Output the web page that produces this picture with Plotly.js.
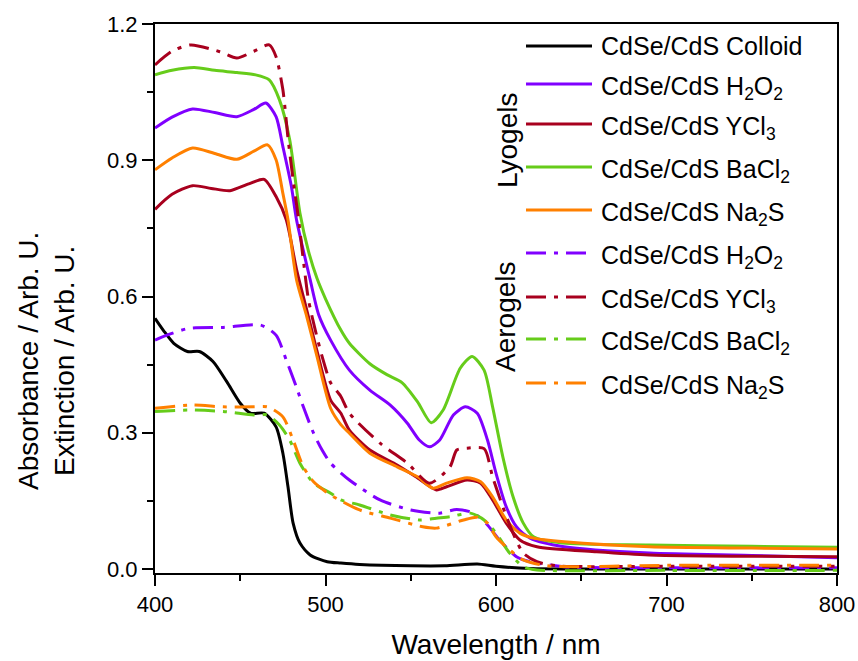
<!DOCTYPE html>
<html>
<head>
<meta charset="utf-8">
<script src="https://cdn.plot.ly/plotly-3.0.1.min.js"></script>
<style>html,body{margin:0;padding:0;background:#fff;}#chart{width:858px;height:661px;}</style>
</head>
<body>
<div id="chart"></div>
<script>
// ---- Data ----
const colloidX = [400,405,411,419,426,434,442,450,456,464,471,475,478,481,485,491,501,509,520,550,570,589,600,620,650,700,750,800];
const colloidY = [0.552,0.525,0.497,0.479,0.479,0.457,0.413,0.365,0.343,0.343,0.313,0.255,0.181,0.101,0.057,0.031,0.016,0.013,0.010,0.007,0.007,0.011,0.006,0.001,0.0,0.0,0.0,0.0];

const lyoH2O2X = [400,410,422,435,448,458,465,471,475,480,483,491,496,503,514,526,538,548,555,561,567,575,582,589,595,600,606,612,620,640,690,750,800];
const lyoH2O2Y = [0.971,0.995,1.013,1.005,0.996,1.012,1.026,0.996,0.930,0.842,0.769,0.637,0.560,0.504,0.438,0.394,0.361,0.321,0.284,0.269,0.284,0.339,0.357,0.343,0.284,0.211,0.137,0.093,0.068,0.049,0.035,0.030,0.025];

const lyoYCl3X = [400,410,422,433,444,455,464,471,477,483,489,495,503,509,514,526,542,553,565,571,583,591,598,606,614,624,659,690,800];
const lyoYCl3Y = [0.792,0.825,0.844,0.838,0.833,0.848,0.858,0.820,0.769,0.660,0.570,0.480,0.372,0.343,0.306,0.262,0.229,0.203,0.174,0.181,0.196,0.189,0.152,0.101,0.064,0.049,0.038,0.031,0.027];

const lyoBaCl2X = [400,410,423,435,448,459,467,473,479,485,490,495,500,509,514,526,536,545,554,562,569,579,586,593,598,604,610,616,622,639,690,750,800];
const lyoBaCl2Y = [1.088,1.098,1.104,1.098,1.093,1.088,1.077,1.033,0.945,0.784,0.700,0.640,0.595,0.526,0.497,0.452,0.428,0.410,0.368,0.322,0.350,0.442,0.468,0.438,0.357,0.247,0.159,0.101,0.071,0.057,0.053,0.050,0.048];

const lyoNa2SX = [400,410,422,435,448,458,466,471,475,478,483,489,495,503,509,514,526,542,554,563,571,583,591,598,606,614,622,640,690,750,800];
const lyoNa2SY = [0.879,0.905,0.927,0.915,0.902,0.920,0.934,0.901,0.827,0.769,0.637,0.556,0.468,0.354,0.318,0.299,0.255,0.225,0.203,0.178,0.189,0.201,0.192,0.159,0.108,0.079,0.068,0.060,0.049,0.046,0.044];

const aeroH2O2X = [400,407,420,440,462,471,477,483,487,493,498,503,514,532,550,567,577,587,595,602,612,620,640,700,800];
const aeroH2O2Y = [0.504,0.515,0.530,0.532,0.537,0.515,0.460,0.400,0.357,0.299,0.262,0.233,0.196,0.152,0.130,0.123,0.131,0.123,0.097,0.064,0.027,0.016,0.005,0.003,0.003];

const aeroYCl3X = [400,410,421,438,448,458,467,471,475,478,481,484,487,490,494,498,503,509,514,532,548,561,573,577,583,593,598,604,610,616,624,636,700,800];
const aeroYCl3Y = [1.110,1.140,1.154,1.139,1.125,1.140,1.154,1.128,1.055,0.949,0.857,0.776,0.680,0.593,0.526,0.468,0.410,0.380,0.343,0.277,0.233,0.189,0.225,0.262,0.266,0.265,0.203,0.137,0.079,0.035,0.016,0.007,0.006,0.006];

const aeroBaCl2X = [400,420,440,458,466,473,479,485,493,503,509,520,538,555,565,573,585,593,600,608,616,624,700,800];
const aeroBaCl2Y = [0.347,0.350,0.347,0.339,0.339,0.317,0.284,0.233,0.189,0.167,0.152,0.141,0.119,0.108,0.112,0.115,0.123,0.108,0.079,0.035,0.005,-0.002,-0.003,-0.003];

const aeroNa2SX = [400,421,440,458,466,475,481,487,493,503,520,538,557,565,581,589,595,600,608,616,630,700,800];
const aeroNa2SY = [0.354,0.361,0.357,0.357,0.357,0.335,0.284,0.225,0.192,0.163,0.130,0.112,0.093,0.090,0.108,0.114,0.101,0.071,0.042,0.020,0.007,0.008,0.008];

const seriesNames = [
  'CdSe/CdS Colloid',
  'CdSe/CdS H<sub>2</sub>O<sub>2</sub>',
  'CdSe/CdS YCl<sub>3</sub>',
  'CdSe/CdS BaCl<sub>2</sub>',
  'CdSe/CdS Na<sub>2</sub>S',
  'CdSe/CdS H<sub>2</sub>O<sub>2</sub>',
  'CdSe/CdS YCl<sub>3</sub>',
  'CdSe/CdS BaCl<sub>2</sub>',
  'CdSe/CdS Na<sub>2</sub>S'
];
const groupLabels = ['Lyogels', 'Aerogels'];
const xTickVals = [400, 500, 600, 700, 800];
const yTickVals = [0.0, 0.3, 0.6, 0.9, 1.2];

// ---- Styles ----
const BLACK = '#000000', PURPLE = '#8000FF', WINE = '#A8001E', GREEN = '#66CC1A', ORANGE = '#FF8000';
const DASHDOT = '20px,8px,4px,8px';
const FONT = 'Liberation Sans, Arial, Helvetica, sans-serif';

const seriesData = [
  [colloidX, colloidY, BLACK, 'solid'],
  [lyoH2O2X, lyoH2O2Y, PURPLE, 'solid'],
  [lyoYCl3X, lyoYCl3Y, WINE, 'solid'],
  [lyoBaCl2X, lyoBaCl2Y, GREEN, 'solid'],
  [lyoNa2SX, lyoNa2SY, ORANGE, 'solid'],
  [aeroH2O2X, aeroH2O2Y, PURPLE, DASHDOT],
  [aeroYCl3X, aeroYCl3Y, WINE, DASHDOT],
  [aeroBaCl2X, aeroBaCl2Y, GREEN, DASHDOT],
  [aeroNa2SX, aeroNa2SY, ORANGE, DASHDOT]
];

const traces = seriesData.map((s, i) => ({
  type: 'scatter', mode: 'lines', x: s[0], y: s[1], name: seriesNames[i],
  line: {color: s[2], width: 3, dash: s[3], shape: 'spline', smoothing: 0.7},
  showlegend: false, hoverinfo: 'skip'
}));

// ---- Manual legend (paper coordinates derived from pixel layout) ----
const L = 155, R = 837, T = 24, B = 573;
const px = v => (v - L) / (R - L);
const py = v => (B - v) / (B - T);
const rowY = [46, 84, 124, 167, 210, 253, 297, 339, 383];
const shapes = [], annotations = [];
seriesData.forEach((s, i) => {
  shapes.push({type: 'line', xref: 'paper', yref: 'paper', x0: px(526), x1: px(592), y0: py(rowY[i]), y1: py(rowY[i]),
    line: {color: s[2], width: 3, dash: s[3]}});
  annotations.push({xref: 'paper', yref: 'paper', x: px(599), y: py(rowY[i] + (i === 0 ? 0 : 4)), xanchor: 'left', yanchor: 'middle',
    text: seriesNames[i], showarrow: false, font: {family: FONT, size: 25, color: '#000'}});
});
annotations.push({xref: 'paper', yref: 'paper', x: px(507), y: py(141), text: groupLabels[0], textangle: -90,
  showarrow: false, xanchor: 'center', yanchor: 'middle', font: {family: FONT, size: 28, color: '#000'}});
annotations.push({xref: 'paper', yref: 'paper', x: px(505), y: py(317), text: groupLabels[1], textangle: -90,
  showarrow: false, xanchor: 'center', yanchor: 'middle', font: {family: FONT, size: 28, color: '#000'}});
// y-axis title (two lines)
annotations.push({xref: 'paper', yref: 'paper', x: px(47), y: py(361), text: 'Absorbance / Arb. U.<br>Extinction / Arb. U.',
  textangle: -90, showarrow: false, xanchor: 'center', yanchor: 'middle', font: {family: FONT, size: 28, color: '#000'}});

const layout = {
  width: 858, height: 661,
  margin: {l: L, r: 858 - R, t: T, b: 661 - B},
  paper_bgcolor: '#fff', plot_bgcolor: '#fff',
  showlegend: false,
  font: {family: FONT, color: '#000'},
  xaxis: {
    range: [400, 800], tickvals: xTickVals, ticks: 'outside', ticklen: 11, tickwidth: 2, tickcolor: '#000',
    showline: true, linewidth: 2, linecolor: '#000', mirror: true, showgrid: false, zeroline: false,
    tickfont: {family: FONT, size: 22, color: '#000'},
    minor: {dtick: 50, tick0: 400, ticks: 'outside', ticklen: 6, tickwidth: 2, tickcolor: '#000', showgrid: false},
    title: {text: 'Wavelength / nm', font: {family: FONT, size: 28, color: '#000'}, standoff: 18}
  },
  yaxis: {
    range: [-0.0088, 1.2], tickvals: yTickVals, tickformat: '.1f', ticks: 'outside', ticklen: 11, tickwidth: 2, tickcolor: '#000',
    showline: true, linewidth: 2, linecolor: '#000', mirror: true, showgrid: false, zeroline: false,
    tickfont: {family: FONT, size: 22, color: '#000'},
    minor: {dtick: 0.15, tick0: 0, ticks: 'outside', ticklen: 6, tickwidth: 2, tickcolor: '#000', showgrid: false}
  },
  shapes: shapes,
  annotations: annotations
};

Plotly.newPlot('chart', traces, layout, {staticPlot: true, displayModeBar: false});
</script>
</body>
</html>
